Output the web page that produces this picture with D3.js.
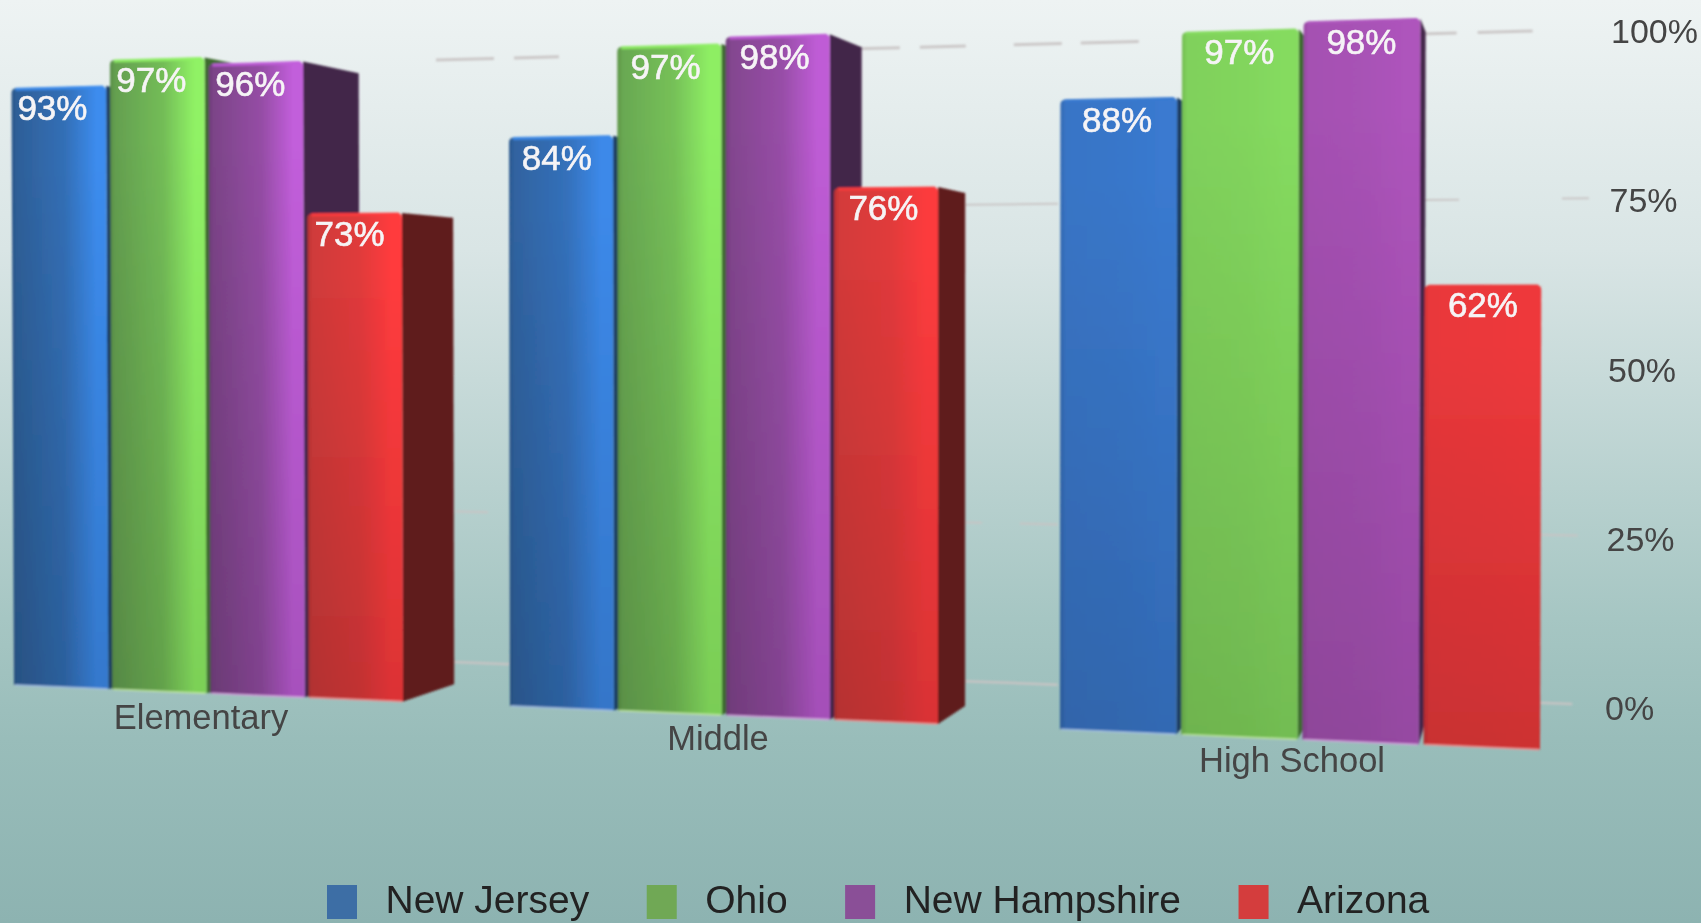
<!DOCTYPE html>
<html>
<head>
<meta charset="utf-8">
<script src="https://cdn.jsdelivr.net/npm/d3@7/dist/d3.min.js"></script>
<style>
html,body{margin:0;padding:0;background:#8db3b1;overflow:hidden}
svg{display:block}
text{font-family:"Liberation Sans",Arial,sans-serif}
</style>
</head>
<body>
<svg id="chart" width="1701" height="923"></svg>
<script>
const categories = ["Elementary", "Middle", "High School"];
const seriesNames = ["New Jersey", "Ohio", "New Hampshire", "Arizona"];
const newJersey = [93, 84, 88];
const ohio = [97, 97, 97];
const newHampshire = [96, 98, 98];
const arizona = [73, 76, 62];
const yTicks = [0, 25, 50, 75, 100];
const seriesValues = [newJersey, ohio, newHampshire, arizona];

const W = 1701, H = 923;
const svg = d3.select("#chart");
const defs = svg.append("defs");

/* ---------- styling ---------- */
const legendColors = ["#3c6ea5", "#6fa854", "#8a4f97", "#d43d3d"];
const tones = [
  {dark:"#2e5f98", bright:"#3c8cee", flat:"#3a78cc", side:"#1d3c60", edge:"#a9c4ea"},
  {dark:"#649f50", bright:"#90f265", flat:"#84d85e", side:"#3d6a2e", edge:"#c4eda4"},
  {dark:"#7c4488", bright:"#c25edb", flat:"#ab53b8", side:"#432849", edge:"#dba6e4"},
  {dark:"#cf3a3a", bright:"#ff3b3d", flat:"#ec383b", side:"#5f1e1f", edge:"#f59a9a"}
];
const groupLight = [1, 0.85, 0.12];

const bg = defs.append("linearGradient").attr("id","bg").attr("x1",0).attr("y1",0).attr("x2",0).attr("y2",1);
[[0,"#eef3f3"],[0.27,"#d9e5e5"],[0.67,"#a6c6c3"],[0.8,"#99bdba"],[1,"#8db3b1"]]
  .forEach(s => bg.append("stop").attr("offset",s[0]).attr("stop-color",s[1]));
const shade = defs.append("linearGradient").attr("id","shade").attr("x1",0).attr("y1",0).attr("x2",0).attr("y2",1);
[[0,0],[0.12,0],[1,0.14]].forEach(s => shade.append("stop").attr("offset",s[0]).attr("stop-color","#000").attr("stop-opacity",s[1]));
const fullFilter = (id,sd) => defs.append("filter").attr("id",id)
  .attr("filterUnits","userSpaceOnUse").attr("x",0).attr("y",0).attr("width",W).attr("height",H)
  .append("feGaussianBlur").attr("stdDeviation",sd);
fullFilter("blurMarks",1.2);
fullFilter("blurText",0.55);

svg.append("rect").attr("width",W).attr("height",H).attr("fill","url(#bg)");

/* ---------- scales: a tilted value plane, projected ---------- */
const base = d3.scaleLinear().domain([60,1480]).range([687,747]);
const top100 = d3.scaleLinear().domain([60,1480]).range([42,2]);
const yFront = (x,v) => d3.scaleLinear().domain([0,100]).range([base(x),top100(x)])(v);
const xLift = (x,v) => x + 0.003*(x-900)*v/100;
const vp = {x:1540,y:320}, depth = 0.045;
const toBack = p => [p[0]+depth*(vp.x-p[0]), p[1]+depth*(vp.y-p[1])];

const groupRange = [[14,403],[510,938],[1060,1540]];
const bands = groupRange.map(r => d3.scaleBand().domain(seriesNames).range(r).paddingInner(0.04));
const line = d3.line();

/* ---------- grid on the back wall ---------- */
const gridBase = d3.scaleLinear().domain([453,1573]).range([662,704]);
const gridTop = d3.scaleLinear().domain([436,1533]).range([60,31]);
const yGrid = (x,v) => d3.scaleLinear().domain([0,100]).range([gridBase(x),gridTop(x)])(v);
const gridStyles = {
  100:{x0:436,x1:1533,w:3,dash:"58 20 45 298 43 20 46 48 48 19 58 280 38 21 55 9999"},
  75:{x0:965,x1:1589,w:2,dash:"93 363 38 103 27 9999"},
  50:{x0:965,x1:1058,w:1,dash:"0 93 9999"},
  25:{x0:456,x1:1578,w:2,dash:"32 477 17 38 38 482 38 9999"},
  0:{x0:453,x1:1573,w:2.5,dash:"57 455 93 482 33 9999"}
};
const gridG = svg.append("g").attr("filter","url(#blurMarks)");
gridG.selectAll("line").data(yTicks).join("line")
  .attr("x1",d=>gridStyles[d].x0).attr("y1",d=>yGrid(gridStyles[d].x0,d))
  .attr("x2",d=>gridStyles[d].x1).attr("y2",d=>yGrid(gridStyles[d].x1,d))
  .attr("stroke","#c9c4c4").attr("stroke-opacity",0.9)
  .attr("stroke-width",d=>gridStyles[d].w)
  .attr("stroke-dasharray",d=>gridStyles[d].dash);

/* ---------- bars ---------- */
const barsG = svg.append("g").attr("filter","url(#blurMarks)");
const bars = [];
categories.forEach((c,g) => seriesNames.forEach((s,k) => bars.push({g,k,c,s,v:seriesValues[k][g]})));

const facePath = (tl,tr,br,bl,r) => {
  const p = d3.path();
  p.moveTo(bl[0],bl[1]);
  p.lineTo(tl[0],tl[1]+r);
  p.quadraticCurveTo(tl[0],tl[1],tl[0]+r,tl[1]);
  p.lineTo(tr[0]-r,tr[1]);
  p.quadraticCurveTo(tr[0],tr[1],tr[0],tr[1]+r);
  p.lineTo(br[0],br[1]);
  p.closePath();
  return p.toString();
};

bars.forEach(d => {
  const band = bands[d.g];
  const xl = band(d.s), xr = xl + band.bandwidth();
  const bl = [xl, yFront(xl,0)], br = [xr, yFront(xr,0)];
  const tl = [xLift(xl,d.v), yFront(xl,d.v)], tr = [xLift(xr,d.v), yFront(xr,d.v)];
  d.tl = tl; d.tr = tr;
  const tone = tones[d.k], L = groupLight[d.g];
  const left = d3.interpolateRgb(tone.flat,tone.dark)(L);
  const right = d3.interpolateRgb(tone.flat,tone.bright)(L);
  const id = "face"+d.g+"_"+d.k;
  const grad = defs.append("linearGradient").attr("id",id).attr("x1",0).attr("y1",0).attr("x2",1).attr("y2",0);
  [[0,d3.rgb(left).darker(0.35)],[0.05,left],[0.55,d3.interpolateRgb(left,right)(0.35)],[0.88,right],[1,right]]
    .forEach(st => grad.append("stop").attr("offset",st[0]).attr("stop-color",st[1]));

  const face = facePath(tl,tr,br,bl,5);
  barsG.append("path").attr("d",line([tr,toBack(tr),toBack(br),br])+"Z").attr("fill",tone.side);
  barsG.append("path").attr("d",face).attr("fill","url(#"+id+")");
  barsG.append("path").attr("d",face).attr("fill","url(#shade)");
  barsG.append("path").attr("d",line([[tl[0]+4,tl[1]+1],[tr[0]-3,tr[1]+1]])).attr("stroke",right).attr("stroke-width",3).attr("fill","none").attr("stroke-opacity",0.9);
  barsG.append("path").attr("d",line([[bl[0]+1,bl[1]],[br[0]-1,br[1]]])).attr("stroke",tone.edge).attr("stroke-width",2).attr("fill","none").attr("stroke-opacity",0.7);
});

/* ---------- text ---------- */
const textG = svg.append("g").attr("filter","url(#blurText)");

textG.selectAll("text.val").data(bars).join("text").attr("class","val")
  .attr("x",d => (d.tl[0]+d.tr[0])/2 - 0.0045*(1480-(d.tl[0]+d.tr[0])/2))
  .attr("y",d => d.tl[1]+32)
  .attr("text-anchor","middle").attr("font-size",35).attr("fill","#f6f4f6")
  .attr("stroke","#f6f4f6").attr("stroke-width",0.6)
  .text(d => d.v+"%");

const catCenter = [201,718,1292], catBase = [729,750,772];
textG.selectAll("text.cat").data(categories).join("text").attr("class","cat")
  .attr("x",(d,i)=>catCenter[i]).attr("y",(d,i)=>catBase[i])
  .attr("text-anchor","middle").attr("font-size",34.5).attr("fill","#444")
  .text(d=>d);

const yLabel = d3.scaleLinear().domain([0,100]).range([720,43]);
const xLabel = d3.scaleLinear().domain([0,100]).range([1605,1611]);
textG.selectAll("text.tick").data(yTicks).join("text").attr("class","tick")
  .attr("x",d=>xLabel(d)).attr("y",d=>yLabel(d))
  .attr("font-size",34).attr("fill","#444")
  .text(d=>d+"%");

/* ---------- legend ---------- */
let lx = 327;
seriesNames.forEach((s,i) => {
  textG.append("rect").attr("x",lx).attr("y",885).attr("width",30).attr("height",34).attr("fill",legendColors[i]);
  const t = textG.append("text").attr("x",lx+58.5).attr("y",913).attr("font-size",39).attr("fill","#222").text(s);
  lx += 58.5 + t.node().getComputedTextLength() + 57.5;
});
</script>
</body>
</html>
